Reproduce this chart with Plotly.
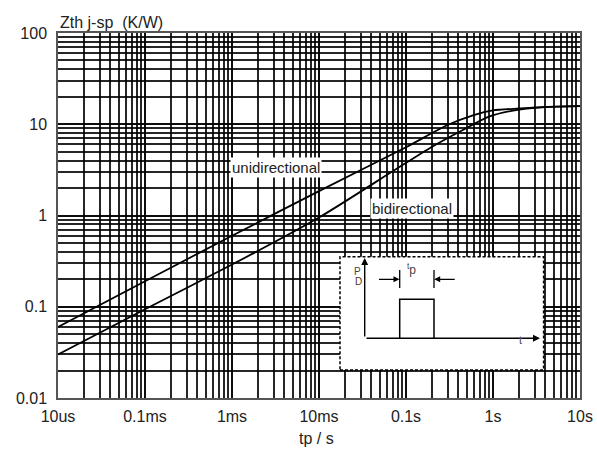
import plotly.graph_objects as go

# ---- data ----
tp_uni = [1e-5, 1e-4, 1e-3, 1e-2, 0.1, 0.3, 0.6, 1.0, 2.0, 4.0, 10.0]
z_uni = [0.060, 0.19, 0.60, 1.85, 5.6, 9.8, 12.6, 14.2, 14.9, 15.5, 15.8]
tp_bi = [1e-5, 1e-4, 1e-3, 1e-2, 0.074, 0.2, 0.45, 0.9, 1.7, 4.0, 10.0]
z_bi = [0.030, 0.094, 0.29, 0.95, 3.15, 5.68, 8.65, 12.1, 14.1, 15.4, 15.8]

x_tickvals = [1e-5, 1e-4, 1e-3, 1e-2, 1e-1, 1, 10]
x_ticktext = ["10us", "0.1ms", "1ms", "10ms", "0.1s", "1s", "10s"]
y_tickvals = [0.01, 0.1, 1, 10, 100]
y_ticktext = ["0.01", "0.1", "1", "10", "100"]

FONT = "Liberation Sans, Arial, sans-serif"
TXT = "#222222"

def minor_vals(decades):
    out = []
    for d in decades:
        for k in range(2, 10):
            out.append(k * d)
    return out

fig = go.Figure()
fig.add_trace(go.Scatter(x=tp_uni, y=z_uni, mode="lines",
                         line=dict(color="black", width=1.8, shape="spline", smoothing=0.7),
                         name="unidirectional", showlegend=False, hoverinfo="skip", cliponaxis=True))
fig.add_trace(go.Scatter(x=tp_bi, y=z_bi, mode="lines",
                         line=dict(color="black", width=1.8, shape="spline", smoothing=0.7),
                         name="bidirectional", showlegend=False, hoverinfo="skip", cliponaxis=True))

grid_major = "rgba(0,0,0,0.95)"
grid_minor = "rgba(0,0,0,0.85)"

fig.update_xaxes(type="log", range=[-5, 1], tickvals=x_tickvals, ticktext=x_ticktext,
                 showgrid=True, gridcolor=grid_major, gridwidth=1.6,
                 minor=dict(tickvals=minor_vals(x_tickvals[:-1]), showgrid=True, gridcolor=grid_minor,
                            gridwidth=1.5, ticks=""),
                 showline=True, linecolor="#555", linewidth=1.5, mirror=True, ticks="", zeroline=False,
                 automargin=False,
                 tickfont=dict(family=FONT, size=16, color=TXT), ticklabelstandoff=3)
fig.update_yaxes(type="log", range=[-2, 2], tickvals=y_tickvals, ticktext=y_ticktext,
                 showgrid=True, gridcolor=grid_major, gridwidth=1.6,
                 minor=dict(tickvals=minor_vals(y_tickvals[:-1]), showgrid=True, gridcolor=grid_minor,
                            gridwidth=1.5, ticks=""),
                 showline=True, linecolor="#555", linewidth=1.5, mirror=True, ticks="", zeroline=False,
                 automargin=False,
                 tickfont=dict(family=FONT, size=16, color=TXT), ticklabelstandoff=6)

W, H = 597, 452
L, R, T, B = 58, 17, 33, 54
pw, ph = W - L - R, H - T - B

def px(x):
    return (x - L) / pw

def py(y):
    return (H - B - y) / ph

# inset box
fig.add_shape(type="rect", xref="paper", yref="paper", x0=px(340), x1=px(543.6), y0=py(370), y1=py(256.7),
              fillcolor="white", line=dict(color="black", width=1.5, dash="3px,2px"), layer="above")
# pulse
fig.add_shape(type="path", xref="paper", yref="paper",
              path=f"M {px(399.7)},{py(338.3)} L {px(399.7)},{py(299.3)} L {px(434)},{py(299.3)} L {px(434)},{py(338.3)}",
              line=dict(color="black", width=1.5), layer="above")
# tp marker ticks
for xx in (399.7, 434):
    fig.add_shape(type="line", xref="paper", yref="paper", x0=px(xx), x1=px(xx), y0=py(288), y1=py(270),
                  line=dict(color="black", width=1.3), layer="above")

annotations = [
    # axes arrows of inset
    dict(x=px(364.7), y=py(258), xref="paper", yref="paper", ax=0, ay=80, axref="pixel", ayref="pixel",
         showarrow=True, arrowhead=2, arrowsize=1, arrowwidth=1.4, arrowcolor="black", text=""),
    dict(x=px(540), y=py(338.3), xref="paper", yref="paper", ax=-175, ay=0, axref="pixel", ayref="pixel",
         showarrow=True, arrowhead=2, arrowsize=1, arrowwidth=1.4, arrowcolor="black", text=""),
    dict(x=px(399.5), y=py(279.3), xref="paper", yref="paper", ax=-22, ay=0,
         showarrow=True, arrowhead=2, arrowsize=1, arrowwidth=1.2, arrowcolor="black", text=""),
    dict(x=px(434.2), y=py(279.3), xref="paper", yref="paper", ax=22, ay=0,
         showarrow=True, arrowhead=2, arrowsize=1, arrowwidth=1.2, arrowcolor="black", text=""),
    dict(x=px(357.5), y=py(271.5), xref="paper", yref="paper", text="P", showarrow=False,
         font=dict(family=FONT, size=10, color="#444")),
    dict(x=px(358.5), y=py(288.5), xref="paper", yref="paper", text="D", showarrow=False,
         font=dict(family=FONT, size=10, color="#553311")),
    dict(x=px(418), y=py(279), xref="paper", yref="paper", text="<sup>t</sup>p", showarrow=False,
         font=dict(family=FONT, size=12, color="#444")),
    dict(x=px(523.5), y=py(348), xref="paper", yref="paper", text="t", showarrow=False,
         font=dict(family=FONT, size=11, color="#445")),
    # curve labels
    dict(x=-2.496, y=0.521, xref="x", yref="y", text="unidirectional", showarrow=False,
         bgcolor="white", borderpad=1, font=dict(family=FONT, size=15, color=TXT)),
    dict(x=-0.935, y=0.082, xref="x", yref="y", text="bidirectional", showarrow=False,
         bgcolor="white", borderpad=1, font=dict(family=FONT, size=15, color=TXT)),
    # axis titles
    dict(x=0, y=py(22), xref="paper", yref="paper", xanchor="left", yanchor="middle",
         text="Zth j-sp  (K/W)", showarrow=False, font=dict(family=FONT, size=16, color=TXT)),
    dict(x=px(316), y=py(438), xref="paper", yref="paper", xanchor="center", yanchor="middle",
         text="tp / s", showarrow=False, font=dict(family=FONT, size=16, color=TXT)),
]

fig.update_layout(width=W, height=H, margin=dict(l=L, r=R, t=T, b=B, autoexpand=False),
                  paper_bgcolor="white", plot_bgcolor="white", showlegend=False,
                  annotations=annotations, font=dict(family=FONT, color=TXT))

fig.write_html("out.html", config={"displayModeBar": False},
               post_script="document.body.style.margin='0';document.body.style.overflow='hidden';")
